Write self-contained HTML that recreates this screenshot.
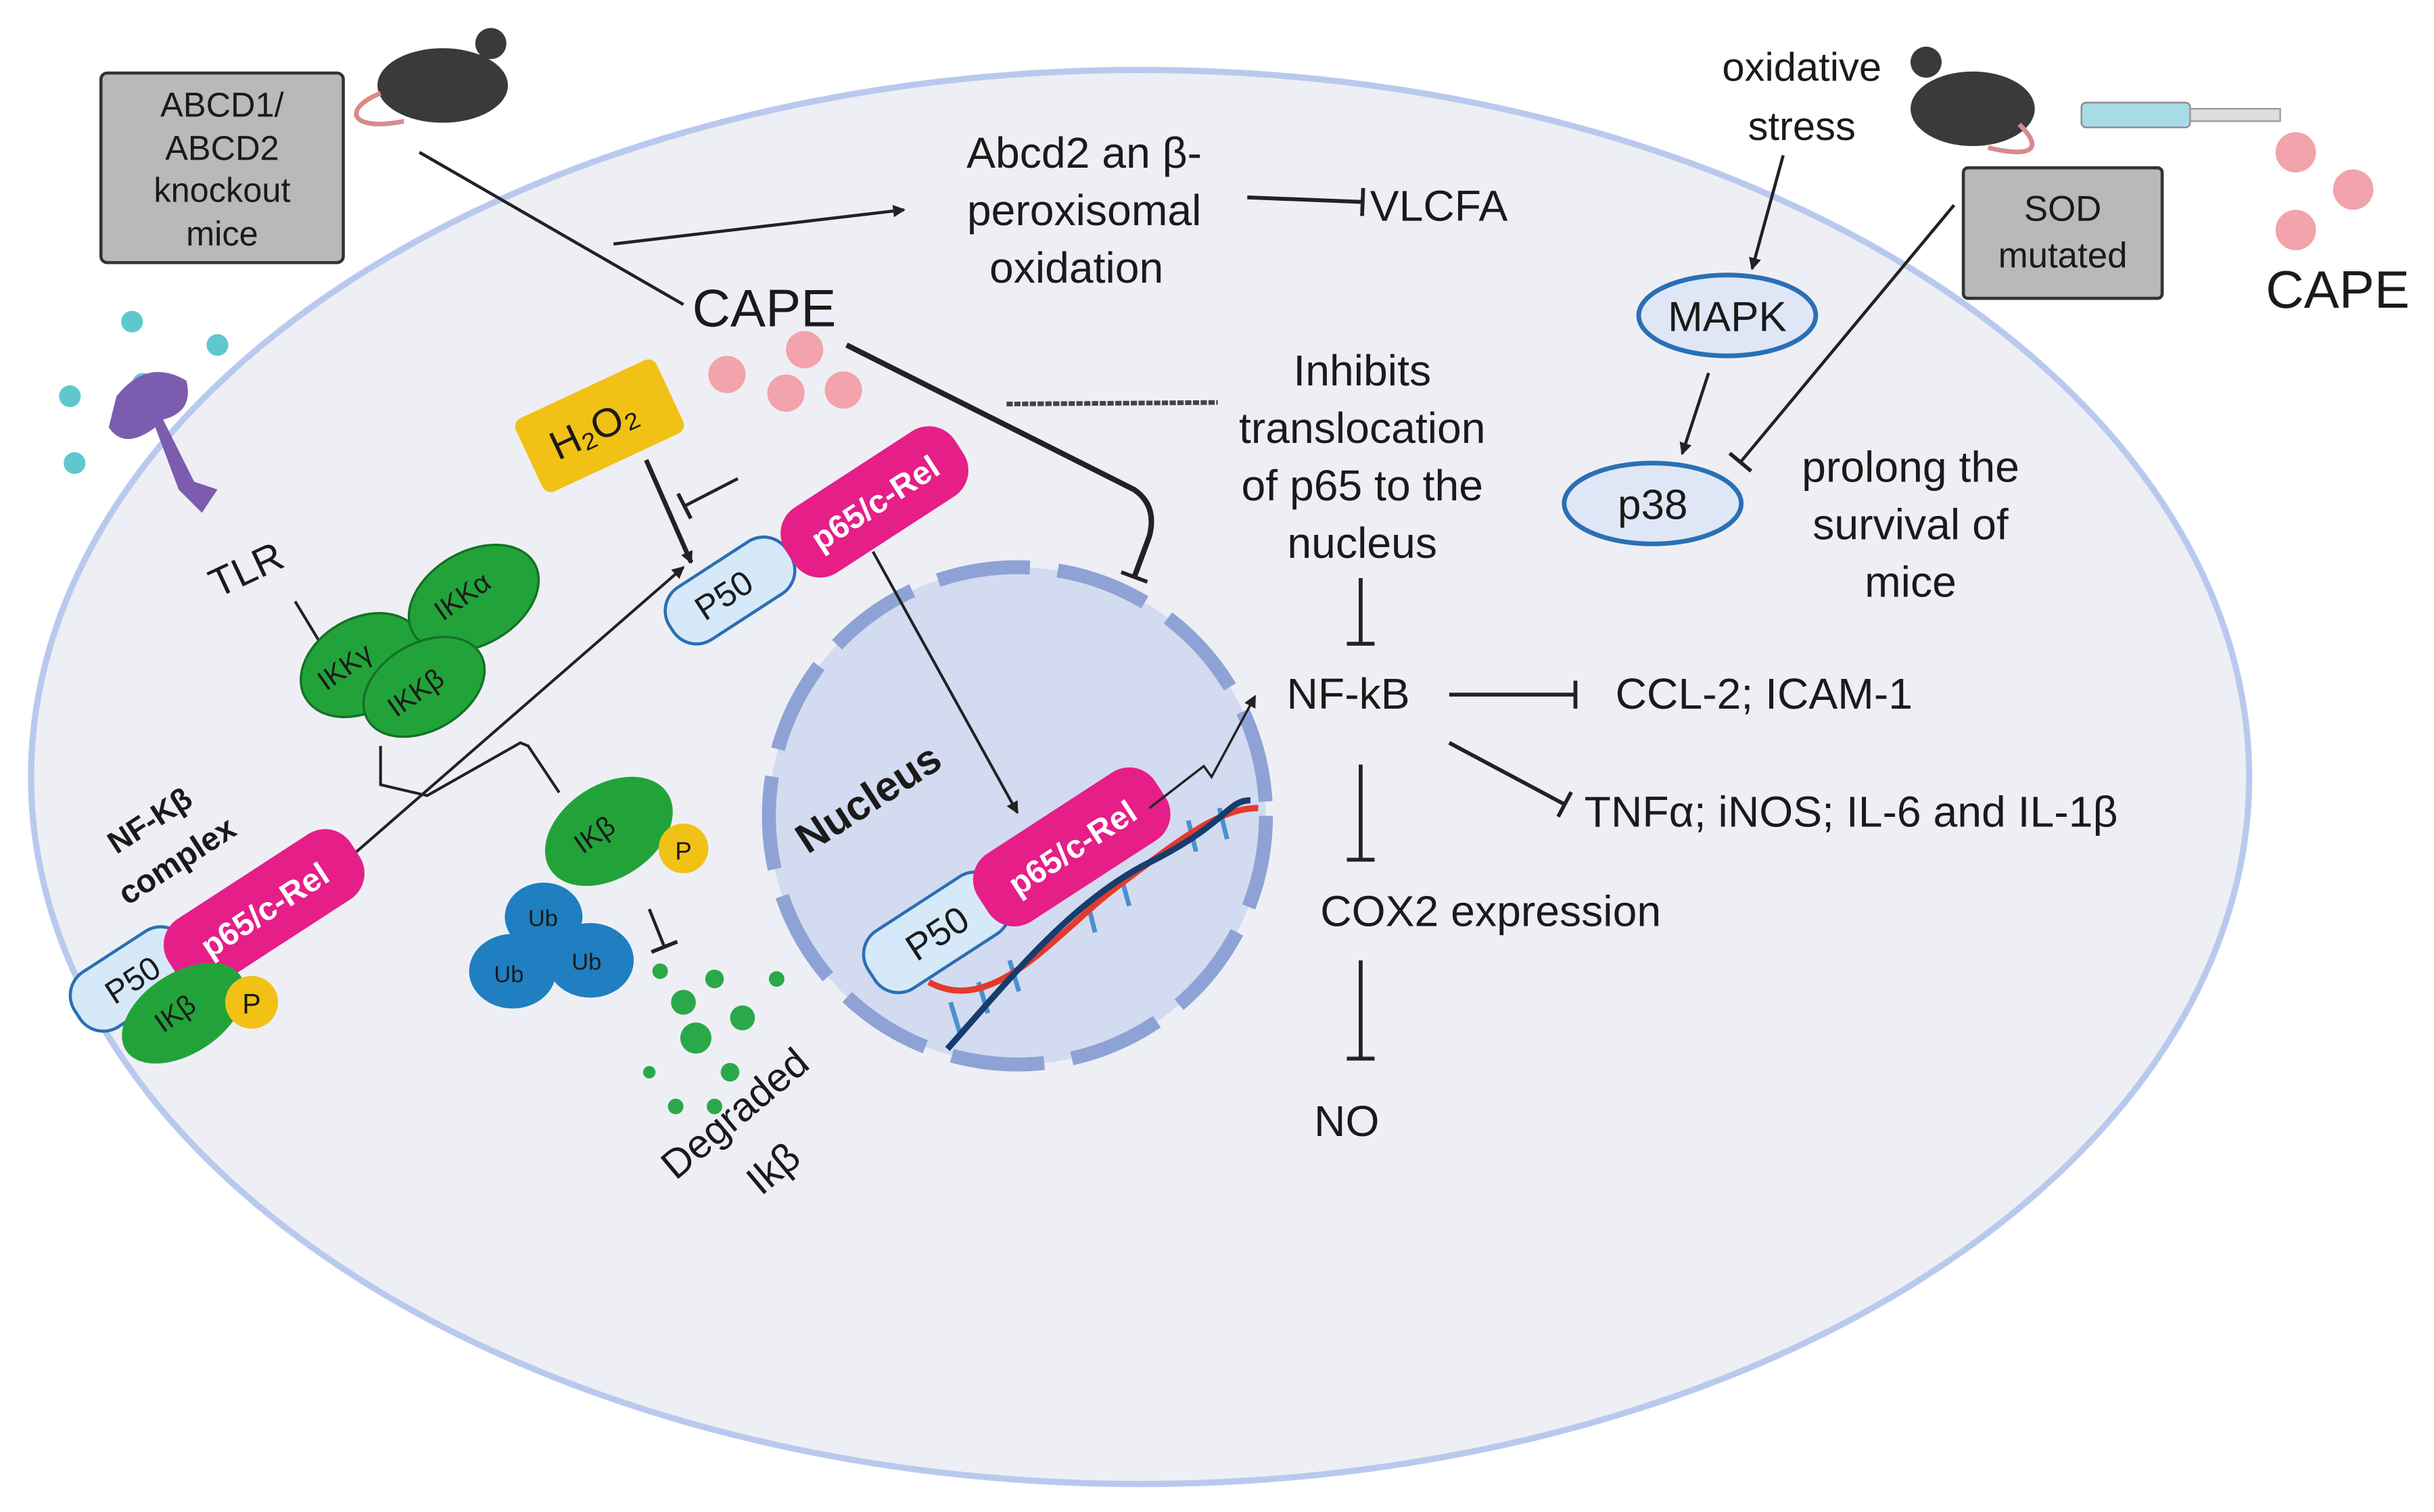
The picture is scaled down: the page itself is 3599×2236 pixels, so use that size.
<!DOCTYPE html>
<html><head><meta charset="utf-8"><style>
html,body{margin:0;padding:0;background:#fff}
svg{display:block}
text{font-family:"Liberation Sans",sans-serif;fill:#1a1a1a}
</style></head><body>
<svg width="3599" height="2236" viewBox="0 0 1567 973" preserveAspectRatio="none" xmlns="http://www.w3.org/2000/svg">
<defs>
<marker id="ar" markerWidth="8" markerHeight="8" refX="7" refY="4" orient="auto" markerUnits="userSpaceOnUse"><path d="M0,0 L8,4 L0,8 z" fill="#222"/></marker>
<marker id="tb" markerWidth="4" markerHeight="18" refX="2" refY="9" orient="auto" markerUnits="userSpaceOnUse"><rect x="0" y="0" width="2.5" height="18" fill="#222"/></marker>
</defs>
<rect width="1567" height="973" fill="#fff"/>
<ellipse cx="734" cy="500" rx="714" ry="455" fill="#eeeff4" stroke="#b9c9ee" stroke-width="4"/>
<!-- nucleus -->
<circle cx="655" cy="525" r="160" fill="#d3dbf0"/>
<circle cx="655" cy="525" r="160" fill="none" stroke="#8ea2d5" stroke-width="9" stroke-dasharray="60 18"/>
<!-- ABCD box -->
<rect x="65" y="47" width="156" height="122" rx="4" fill="#b9b9b9" stroke="#333" stroke-width="2"/>
<text x="143" y="75" font-size="22" text-anchor="middle">ABCD1/</text>
<text x="143" y="103" font-size="22" text-anchor="middle">ABCD2</text>
<text x="143" y="130" font-size="22" text-anchor="middle">knockout</text>
<text x="143" y="158" font-size="22" text-anchor="middle">mice</text>
<!-- mice -->
<g fill="#3a3a3a"><ellipse cx="285" cy="55" rx="42" ry="24"/><circle cx="316" cy="28" r="10"/></g>
<path d="M245,60 C220,70 225,85 260,78" stroke="#d88a8a" stroke-width="3" fill="none"/>
<g fill="#3a3a3a"><ellipse cx="1270" cy="70" rx="40" ry="24"/><circle cx="1240" cy="40" r="10"/></g>
<path d="M1300,80 C1320,100 1300,100 1280,95" stroke="#d88a8a" stroke-width="3" fill="none"/>
<!-- syringe -->
<rect x="1340" y="66" width="70" height="16" rx="3" fill="#a8dbe8" stroke="#888"/>
<rect x="1410" y="70" width="58" height="8" fill="#ddd" stroke="#999"/>
<g fill="#f2a3ab"><circle cx="1478" cy="98" r="13"/><circle cx="1515" cy="122" r="13"/><circle cx="1478" cy="148" r="13"/></g>
<text x="1505" y="198" font-size="34" text-anchor="middle">CAPE</text>
<!-- SOD -->
<rect x="1264" y="108" width="128" height="84" rx="3" fill="#b9b9b9" stroke="#333" stroke-width="2"/>
<text x="1328" y="142" font-size="23" text-anchor="middle">SOD</text>
<text x="1328" y="172" font-size="23" text-anchor="middle">mutated</text>
<text x="1160" y="52" font-size="26" text-anchor="middle">oxidative</text>
<text x="1160" y="90" font-size="26" text-anchor="middle">stress</text>
<line x1="1148" y1="100" x2="1128" y2="173" stroke="#222" stroke-width="2" marker-end="url(#ar)"/>
<ellipse cx="1112" cy="203" rx="57" ry="26" fill="#dfe7f6" stroke="#2a6fb5" stroke-width="3"/>
<text x="1112" y="213" font-size="27" text-anchor="middle">MAPK</text>
<line x1="1100" y1="240" x2="1083" y2="292" stroke="#222" stroke-width="2" marker-end="url(#ar)"/>
<ellipse cx="1064" cy="324" rx="57" ry="26" fill="#dfe7f6" stroke="#2a6fb5" stroke-width="3"/>
<text x="1064" y="334" font-size="27" text-anchor="middle">p38</text>
<line x1="1258" y1="132" x2="1120" y2="298" stroke="#222" stroke-width="2" marker-end="url(#tb)"/>
<text x="1230" y="310" font-size="28" text-anchor="middle">prolong the</text>
<text x="1230" y="347" font-size="28" text-anchor="middle">survival of</text>
<text x="1230" y="384" font-size="28" text-anchor="middle">mice</text>
<!-- Abcd2 -->
<text x="698" y="108" font-size="28" text-anchor="middle">Abcd2 an β-</text>
<text x="698" y="145" font-size="28" text-anchor="middle">peroxisomal</text>
<text x="693" y="182" font-size="28" text-anchor="middle">oxidation</text>
<line x1="803" y1="127" x2="878" y2="130" stroke="#222" stroke-width="2.5" marker-end="url(#tb)"/>
<text x="882" y="142" font-size="28">VLCFA</text>
<line x1="270" y1="98" x2="440" y2="196" stroke="#222" stroke-width="2"/>
<line x1="395" y1="157" x2="582" y2="135" stroke="#222" stroke-width="2" marker-end="url(#ar)"/>
<text x="492" y="210" font-size="34" text-anchor="middle">CAPE</text>
<g fill="#f2a3ab"><circle cx="468" cy="241" r="12"/><circle cx="518" cy="225" r="12"/><circle cx="506" cy="253" r="12"/><circle cx="543" cy="251" r="12"/></g>
<path d="M545,222 L730,315 Q745,325 740,345 L730,372" stroke="#222" stroke-width="3.5" fill="none" marker-end="url(#tb)"/>
<line x1="648" y1="260" x2="784" y2="259" stroke="#444" stroke-width="3" stroke-dasharray="4 1"/>
<text x="877" y="248" font-size="28" text-anchor="middle">Inhibits</text>
<text x="877" y="285" font-size="28" text-anchor="middle">translocation</text>
<text x="877" y="322" font-size="28" text-anchor="middle">of p65 to the</text>
<text x="877" y="359" font-size="28" text-anchor="middle">nucleus</text>
<line x1="876" y1="372" x2="876" y2="415" stroke="#222" stroke-width="2.5" marker-end="url(#tb)"/>
<text x="868" y="456" font-size="28" text-anchor="middle">NF-kB</text>
<line x1="933" y1="447" x2="1015" y2="447" stroke="#222" stroke-width="2.5" marker-end="url(#tb)"/>
<text x="1040" y="456" font-size="28">CCL-2; ICAM-1</text>
<line x1="933" y1="478" x2="1008" y2="518" stroke="#222" stroke-width="2.5" marker-end="url(#tb)"/>
<text x="1020" y="532" font-size="28">TNFα; iNOS; IL-6 and IL-1β</text>
<line x1="876" y1="492" x2="876" y2="554" stroke="#222" stroke-width="2.5" marker-end="url(#tb)"/>
<text x="850" y="596" font-size="28">COX2 expression</text>
<line x1="876" y1="618" x2="876" y2="682" stroke="#222" stroke-width="2.5" marker-end="url(#tb)"/>
<text x="867" y="731" font-size="28" text-anchor="middle">NO</text>
<!-- TLR -->
<g fill="#5fc8cf"><circle cx="85" cy="207" r="7"/><circle cx="140" cy="222" r="7"/><circle cx="45" cy="255" r="7"/><circle cx="92" cy="247" r="7"/><circle cx="48" cy="298" r="7"/></g>
<path d="M75,255 Q95,230 120,245 Q125,265 105,270 L125,310 L140,315 L130,330 L115,315 L100,275 Q80,290 70,275 Z" fill="#7c5cae"/>
<text x="140" y="385" font-size="26" transform="rotate(-25 140 385)">TLR</text>
<line x1="190" y1="387" x2="210" y2="420" stroke="#222" stroke-width="1.8" marker-end="url(#ar)"/>
<g fill="#22a33a" stroke="#137225" stroke-width="1.5">
<ellipse cx="233" cy="428" rx="42" ry="30" transform="rotate(-30 233 428)"/>
<ellipse cx="305" cy="385" rx="45" ry="30" transform="rotate(-30 305 385)"/>
<ellipse cx="273" cy="442" rx="42" ry="28" transform="rotate(-30 273 442)"/>
</g>
<g fill="#111" font-size="18"><text x="210" y="445" transform="rotate(-35 210 445)">IKKγ</text><text x="285" y="400" transform="rotate(-35 285 400)">IKKα</text><text x="255" y="462" transform="rotate(-35 255 462)">IKKβ</text></g>
<path d="M245,480 L245,505 L275,512 L335,478 L340,480 L360,510" stroke="#222" stroke-width="1.8" fill="none"/>
<line x1="225" y1="552" x2="440" y2="365" stroke="#222" stroke-width="1.8" marker-end="url(#ar)"/>
<!-- H2O2 -->
<rect x="336" y="248" width="100" height="52" rx="6" fill="#f2c116" transform="rotate(-25 386 274)"/>
<text x="386" y="284" font-size="26" text-anchor="middle" transform="rotate(-25 386 284)">H₂O₂</text>
<line x1="416" y1="296" x2="445" y2="362" stroke="#222" stroke-width="3" marker-end="url(#ar)"/>
<line x1="475" y1="308" x2="440" y2="326" stroke="#222" stroke-width="2" marker-end="url(#tb)"/>
<!-- P50/p65 cytoplasm -->
<g transform="translate(470,380) rotate(-33)">
<rect x="-45" y="-20" width="90" height="40" rx="18" fill="#d6e9f8" stroke="#2a6fb5" stroke-width="2"/>
<text x="-5" y="8" font-size="22" text-anchor="middle">P50</text>
</g>
<g transform="translate(563,323) rotate(-33)">
<rect x="-65" y="-25" width="130" height="50" rx="20" fill="#e61e88"/>
<text x="0" y="8" font-size="21" font-weight="bold" style="fill:#fff" text-anchor="middle">p65/c-Rel</text>
</g>
<line x1="562" y1="355" x2="655" y2="523" stroke="#222" stroke-width="1.8" marker-end="url(#ar)"/>
<text x="0" y="0" font-size="27" font-weight="bold" transform="translate(520,550) rotate(-33)">Nucleus</text>
<!-- DNA -->
<g stroke="#4a90d0" stroke-width="3"><line x1="612" y1="645" x2="618" y2="665"/><line x1="630" y1="632" x2="636" y2="652"/><line x1="650" y1="618" x2="656" y2="638"/><line x1="700" y1="580" x2="705" y2="600"/><line x1="722" y1="565" x2="727" y2="583"/><line x1="765" y1="528" x2="770" y2="548"/><line x1="785" y1="520" x2="790" y2="540"/></g>
<path d="M598,632 C640,655 680,600 720,570 S785,520 810,520" stroke="#e43a2c" stroke-width="4" fill="none"/>
<path d="M610,675 C650,630 690,580 740,555 S790,515 805,515" stroke="#163d6e" stroke-width="4" fill="none"/>
<g transform="translate(603,600) rotate(-33)">
<rect x="-50" y="-22" width="100" height="44" rx="18" fill="#d6e9f8" stroke="#2a6fb5" stroke-width="2"/>
<text x="0" y="9" font-size="24" text-anchor="middle">P50</text>
</g>
<g transform="translate(690,545) rotate(-33)">
<rect x="-68" y="-26" width="136" height="52" rx="20" fill="#e61e88"/>
<text x="0" y="8" font-size="21" font-weight="bold" style="fill:#fff" text-anchor="middle">p65/c-Rel</text>
</g>
<path d="M740,520 L775,493 L780,500 L808,448" stroke="#222" stroke-width="1.5" fill="none" marker-end="url(#ar)"/>
<!-- NF-kB complex -->
<text x="0" y="0" font-size="20" font-weight="bold" transform="translate(75,550) rotate(-33)">NF-Kβ</text>
<text x="0" y="0" font-size="21" font-weight="bold" transform="translate(82,583) rotate(-33)">complex</text>
<g transform="translate(85,630) rotate(-33)">
<rect x="-42" y="-21" width="84" height="42" rx="18" fill="#d6e9f8" stroke="#2a6fb5" stroke-width="2"/>
<text x="0" y="8" font-size="21" text-anchor="middle">P50</text>
</g>
<g transform="translate(170,585) rotate(-33)">
<rect x="-70" y="-25" width="140" height="50" rx="20" fill="#e61e88"/>
<text x="0" y="8" font-size="21" font-weight="bold" style="fill:#fff" text-anchor="middle">p65/c-Rel</text>
</g>
<ellipse cx="118" cy="652" rx="44" ry="26" fill="#22a33a" transform="rotate(-33 118 652)"/>
<text x="0" y="0" font-size="18" transform="translate(105,665) rotate(-35)">IKβ</text>
<circle cx="162" cy="645" r="17" fill="#f2c116"/><text x="162" y="652" font-size="18" text-anchor="middle">P</text>
<!-- IKb + Ub -->
<ellipse cx="392" cy="535" rx="45" ry="30" fill="#22a33a" transform="rotate(-33 392 535)"/>
<text x="375" y="550" font-size="18" transform="rotate(-35 375 550)">IKβ</text>
<circle cx="440" cy="546" r="16" fill="#f2c116"/><text x="440" y="553" font-size="16" text-anchor="middle">P</text>
<g fill="#1f7fc0"><ellipse cx="350" cy="590" rx="25" ry="22"/><ellipse cx="330" cy="625" rx="28" ry="24"/><ellipse cx="380" cy="618" rx="28" ry="24"/></g>
<g font-size="15" fill="#111"><text x="340" y="596">Ub</text><text x="318" y="632">Ub</text><text x="368" y="624">Ub</text></g>
<line x1="418" y1="585" x2="428" y2="610" stroke="#222" stroke-width="2" marker-end="url(#tb)"/>
<g fill="#2aa84a"><circle cx="440" cy="645" r="8"/><circle cx="460" cy="630" r="6"/><circle cx="448" cy="668" r="10"/><circle cx="478" cy="655" r="8"/><circle cx="425" cy="625" r="5"/><circle cx="470" cy="690" r="6"/><circle cx="435" cy="712" r="5"/><circle cx="500" cy="630" r="5"/><circle cx="418" cy="690" r="4"/><circle cx="460" cy="712" r="5"/></g>
<text x="435" y="760" font-size="26" transform="rotate(-40 435 760)">Degraded</text>
<text x="490" y="770" font-size="26" transform="rotate(-40 490 770)">Ikβ</text>
</svg>
</body></html>
